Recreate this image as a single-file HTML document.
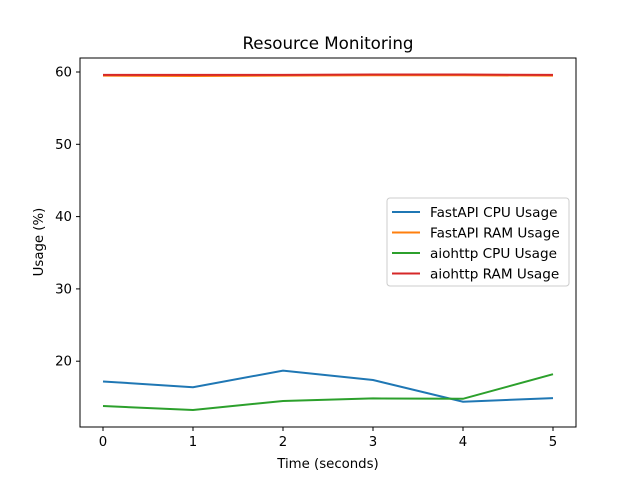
<!DOCTYPE html>
<html><head><meta charset="utf-8"><style>
body{margin:0;background:#fff;font-family:"Liberation Sans","DejaVu Sans",sans-serif}
svg text{font-family:"DejaVu Sans","Liberation Sans",sans-serif}
</style></head><body>
<svg width="640" height="480" id="chart" xmlns="http://www.w3.org/2000/svg">
<rect width="640" height="480" fill="#fff"/>
<text x="328" y="49" font-size="16.7" text-anchor="middle">Resource Monitoring</text>
<text x="328" y="468" font-size="13.3" text-anchor="middle">Time (seconds)</text>
<text x="43" y="242" font-size="13.3" text-anchor="middle" transform="rotate(-90 43 242)">Usage (%)</text>
<g id="plot"></g>
<rect x="80" y="58" width="496" height="369" fill="none" stroke="#000" stroke-width="1"/>
<g>
<rect x="387" y="198" width="182" height="88" rx="3" fill="#fff" fill-opacity="0.8" stroke="#ccc"/>
<g id="legend"></g>
</g>
</svg>
<script>
const times=[0,1,2,3,4,5];
const fastCpu=[17.2,16.4,18.7,17.4,14.4,14.9];
const fastRam=[59.5,59.45,59.5,59.55,59.55,59.5];
const aioCpu=[13.8,13.25,14.5,14.85,14.8,18.2];
const aioRam=[59.6,59.6,59.6,59.65,59.65,59.6];
const yTicks=[20,30,40,50,60];
const xTicks=[0,1,2,3,4,5];
const seriesNames=["FastAPI CPU Usage","FastAPI RAM Usage","aiohttp CPU Usage","aiohttp RAM Usage"];
const seriesData=[fastCpu,fastRam,aioCpu,aioRam];
const colors=["#1f77b4","#ff7f0e","#2ca02c","#d62728"];
const NS="http://www.w3.org/2000/svg";
const xs=v=>103+v*90;
const ys=v=>72+(60-v)*7.23;
const plot=document.getElementById('plot');
function mk(t,a,p){const e=document.createElementNS(NS,t);for(const k in a)e.setAttribute(k,a[k]);p.appendChild(e);return e;}
yTicks.forEach(v=>{
 const l=mk('line',{x1:76,x2:80,y1:ys(v),y2:ys(v),stroke:'#000'},plot);
 
 
 const t=mk('text',{x:72,y:ys(v)+4.5,'font-size':13.3,'text-anchor':'end'},plot);t.textContent=v;
 
 
});
xTicks.forEach(v=>{
 const l=mk('line',{x1:xs(v),x2:xs(v),y1:427,y2:431,stroke:'#000'},plot);
 
 
 const t=mk('text',{x:xs(v),y:446,'font-size':13.3,'text-anchor':'middle'},plot);t.textContent=v;
 
 
});
seriesData.forEach((d,i)=>{
 const p=mk('polyline',{points:d.map((v,j)=>xs(times[j])+','+ys(v)).join(' '),fill:'none',stroke:colors[i],'stroke-width':2},plot);
 
 
});
const lg=document.getElementById('legend');
seriesNames.forEach((n,i)=>{
 const y=212+i*20.5;
 const l=mk('line',{x1:392,x2:420,y1:y,y2:y,stroke:colors[i],'stroke-width':2},lg);
 
 
 const t=mk('text',{x:430,y:y+5,'font-size':13.6},lg);t.textContent=n;
 
 
});
</script>
</body></html>
